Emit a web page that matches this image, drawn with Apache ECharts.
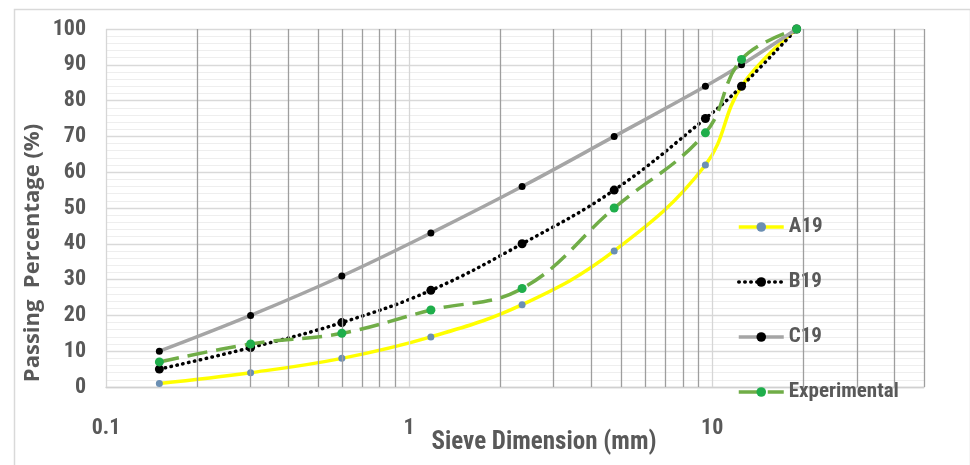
<!DOCTYPE html>
<html>
<head>
<meta charset="utf-8">
<style>
  html, body { margin: 0; padding: 0; background: #ffffff; }
  #chart { width: 970px; height: 465px; }
</style>
<script src="https://cdn.jsdelivr.net/npm/echarts@6/dist/echarts.min.js"></script>
</head>
<body>
<div id="chart"></div>
<script>
// Sieve sizes (mm) and cumulative passing percentages per gradation
const sieveSizes = [0.15, 0.3, 0.6, 1.18, 2.36, 4.75, 9.5, 12.5, 19];
const a19 = [1, 4, 8, 14, 23, 38, 62, 84, 100];
const b19 = [5, 11, 18, 27, 40, 55, 75, 84, 100];
const c19 = [10, 20, 31, 43, 56, 70, 84, 90, 100];
const experimental = [7, 12, 15, 21.5, 27.5, 50, 71, 91.5, 100];
const seriesNames = ['A19', 'B19', 'C19', 'Experimental'];

// Log-axis grid positions: intermediate values and decade values
const minorGridX = [0.2, 0.3, 0.4, 0.5, 0.6, 0.7, 0.8, 0.9, 2, 3, 4, 5, 6, 7, 8, 9, 20, 30, 40, 50];
const decadeGridX = [0.1, 1, 10];

const textColor = '#595959';
const tickFont = "'Liberation Sans Narrow', 'Roboto Condensed', 'Liberation Sans', sans-serif";
const lineWidth = 3.5;

function pairs(values) {
  return sieveSizes.map((s, i) => [s, values[i]]);
}

const chart = echarts.init(document.getElementById('chart'));

const gridLines = minorGridX.map(v => ({
  xAxis: v,
  lineStyle: { color: '#9e9e9e', width: 1.3, type: 'solid' }
})).concat(decadeGridX.map(v => ({
  xAxis: v,
  lineStyle: { color: '#d6d6d6', width: 1.3, type: 'solid' }
})));

chart.setOption({
  animation: false,
  backgroundColor: '#ffffff',
  graphic: [{
    type: 'rect',
    left: 12, top: 7,
    shape: { width: 956, height: 470 },
    style: { fill: 'none', stroke: '#d9d9d9', lineWidth: 1.5 },
    silent: true,
    z: -10
  }],
  grid: { left: 106, right: 46, top: 29, bottom: 78, containLabel: false, outerBoundsMode: 'none' },
  legend: {
    orient: 'vertical',
    left: 732,
    top: 211,
    itemWidth: 45,
    itemHeight: 12,
    itemGap: 33,
    data: seriesNames.map(name => ({ name: name, lineStyle: { width: lineWidth } })),
    lineStyle: { width: lineWidth },
    textStyle: { color: textColor, fontSize: 21, fontWeight: 'bold', fontFamily: tickFont, lineHeight: 22 }
  },
  xAxis: {
    type: 'log',
    logBase: 10,
    min: 0.1,
    max: 50,
    name: 'Sieve Dimension (mm)',
    nameLocation: 'middle',
    nameGap: 43,
    nameMoveOverlap: false,
    nameTextStyle: {
      color: textColor, fontSize: 25, fontWeight: 'bold', fontFamily: tickFont,
      padding: [0, 0, 0, 58]
    },
    axisLine: { show: true, lineStyle: { color: '#d0d0d0', width: 1.3 } },
    axisTick: { show: false },
    splitLine: { show: false },
    axisLabel: {
      color: textColor, fontSize: 22, fontWeight: 'bold', fontFamily: tickFont,
      margin: 30, showMaxLabel: false,
      formatter: v => String(+v.toPrecision(6))
    }
  },
  yAxis: {
    type: 'value',
    min: 0,
    max: 100,
    interval: 10,
    name: 'Passing  Percentage (%)',
    nameLocation: 'middle',
    nameGap: 62,
    nameMoveOverlap: false,
    nameTextStyle: {
      color: textColor, fontSize: 22, fontWeight: 'bold', fontFamily: "'Open Sans', sans-serif",
      padding: [0, 90, 0, 0]
    },
    axisLine: { show: false },
    axisTick: { show: false },
    axisLabel: { color: textColor, fontSize: 22, fontWeight: 'bold', fontFamily: tickFont, margin: 20 },
    splitLine: { show: true, lineStyle: { color: '#d9d9d9', width: 1.3 } },
    minorTick: { show: false, splitNumber: 5 },
    minorSplitLine: { show: true, lineStyle: { color: '#eeeeee', width: 1 } }
  },
  series: [
    {
      name: 'gridlines',
      type: 'line',
      data: [],
      silent: true,
      z: 1,
      markLine: {
        silent: true,
        symbol: ['none', 'none'],
        label: { show: false },
        animation: false,
        data: gridLines
      }
    },
    {
      name: 'A19',
      type: 'line',
      data: pairs(a19),
      smooth: 0.4,
      symbol: 'circle',
      symbolSize: 7,
      lineStyle: { color: '#ffff00', width: lineWidth },
      itemStyle: { color: '#6b8fb3', borderWidth: 0 },
      z: 3
    },
    {
      name: 'B19',
      type: 'line',
      data: pairs(b19),
      smooth: 0.4,
      symbol: 'circle',
      symbolSize: 9,
      lineStyle: { color: '#000000', width: lineWidth, type: [0.5, 5.5], cap: 'round' },
      itemStyle: { color: '#000000', borderWidth: 0 },
      z: 4
    },
    {
      name: 'C19',
      type: 'line',
      data: pairs(c19),
      smooth: 0.4,
      symbol: 'circle',
      symbolSize: 7,
      lineStyle: { color: '#a5a5a5', width: lineWidth },
      itemStyle: { color: '#000000', borderWidth: 0 },
      z: 5
    },
    {
      name: 'Experimental',
      type: 'line',
      data: pairs(experimental),
      smooth: 0.4,
      symbol: 'circle',
      symbolSize: 9,
      lineStyle: { color: '#70ad47', width: lineWidth, type: [20, 9] },
      itemStyle: { color: '#1fae4b', borderWidth: 0 },
      z: 6
    }
  ]
});
</script>
</body>
</html>
